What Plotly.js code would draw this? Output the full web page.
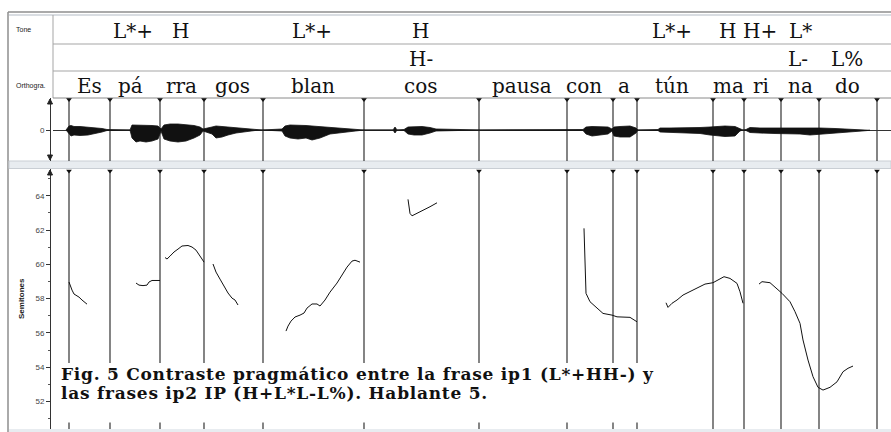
<!DOCTYPE html>
<html><head><meta charset="utf-8">
<script src="https://cdn.plot.ly/plotly-3.0.1.min.js"></script>
<style>html,body{margin:0;padding:0;background:#fff;overflow:hidden}#chart{width:891px;height:432px}
g.annotation[data-index="28"] text, g.annotation[data-index="29"] text{letter-spacing:0.75px}</style>
</head><body><div id="chart"></div>
<script>
// ---- data (time in frame units, pitch in semitones) ----
const boundaries = [69,110,160,204,263,364,479,567,613,637,713,744,781,819,877];
const orthoLabels = ['Es','pá','rra','gos','blan','cos','pausa','con','a','tún','ma','ri','na','do'];
const orthoPos    = [89,130,181,232,313,421,522,584,624,672,728,761,800,847];
const toneLabels  = ['L*+','H','L*+','H','L*+','H','H+','L*'];
const tonePos     = [133,180,312,420,672,727,760,800];
const phraseLabels = ['H-','L-','L%'];
const phrasePos    = [421,798,847];
const stTicks = [52,54,56,58,60,62,64];

const pitchTime = [69,70,72,74,76,79,82,85,87,null,
  136,139,143,147,149,152,156,160,null,
  165,167,170,174,178,182,188,192,196,199,202,204,null,
  213,216,220,224,228,232,235,238,null,
  286,288,291,295,300,304,307,312,317,320,325,330,337,342,347,352,355,360,null,
  408,410,412,417,423,430,437,null,
  584,585,586,590,597,603,612,617,630,637,null,
  666,668,672,677,683,690,697,705,713,720,724,730,737,740,743,null,
  759,762,770,777,782,790,795,800,803,808,813,818,823,830,837,843,848,853];
const pitchSt = [58.97,58.79,58.50,58.27,58.21,58.09,57.92,57.80,57.68,null,
  58.91,58.79,58.76,58.79,58.97,59.06,59.06,59.06,null,
  60.40,60.31,60.48,60.72,60.89,61.07,61.10,61.01,60.83,60.60,60.31,60.13,null,
  60.02,59.55,59.14,58.73,58.33,58.03,57.92,57.63,null,
  56.11,56.40,56.69,56.93,57.04,57.16,57.45,57.69,57.69,57.57,57.92,58.38,58.91,59.37,59.84,60.19,60.24,60.13,null,
  63.79,62.97,62.83,62.97,63.17,63.36,63.59,null,
  62.10,59.86,58.31,57.82,57.43,57.14,57.04,56.94,56.91,56.65,null,
  57.76,57.49,57.73,57.92,58.21,58.40,58.60,58.85,58.93,59.18,59.28,59.18,58.89,58.40,57.73,null,
  58.85,58.99,58.93,58.60,58.31,57.82,57.24,56.56,55.59,54.42,53.45,52.83,52.67,52.83,53.15,53.74,53.94,54.07];

// waveform envelope (upper / lower amplitude)
const waveTime = [66,69,71,74,80,88,95,102,107,
  130,132,136,140,146,152,158,161,
  164,170,178,186,194,200,203,
  212,216,222,228,236,245,255,262,
  282,285,290,298,306,312,320,330,345,360,364,
  393,395,397,404,408,414,422,430,436,460,480,
  583,586,592,600,608,612,614,620,630,636,638,
  658,660,670,685,700,710,718,725,735,740,743,
  746,750,760,775,790,800,810,820,835,850,862,870];
const waveUp = [0,4,4.5,3.5,3.5,3,2.5,1.5,0.5,
  0,5,5,5,5,4.5,4,1,
  5,6,6,5.5,4.5,3,1,
  3,4,3.5,3,2,1,0.5,0,
  1,4,5,5,4.5,4,3.5,2.5,1.5,0.5,0,
  0,3,0,0.5,3,3.5,3.5,2.5,1,0.5,0,
  0.5,3,3.5,3,3,1,3,3.5,4,2,0,
  0.5,2,2,2,2.5,3,3.5,4,3.5,1,0,
  0.5,2.5,2,2,2,2,2.5,2,1.5,1,0.5,0.3];
const waveDown = [0,-4,-6,-5,-5.5,-5,-3.5,-2,-0.5,
  0,-8,-12,-11,-12,-11,-9,-1,
  -9,-11,-12,-11,-8,-5,-1,
  -4,-8,-7,-5,-3,-1.5,-0.5,0,
  -1,-6,-8,-9,-8,-10,-8,-4,-2,-0.5,0,
  0,-3,0,-0.5,-4,-5,-5,-3,-1,-0.5,0,
  -0.5,-4,-6,-5,-4,-1,-6,-7,-7,-3,0,
  -0.5,-2,-3,-3,-3.5,-5,-6,-6.5,-6,-1,0,
  -0.5,-2.5,-3,-3.5,-3.5,-4,-5,-4.5,-3.5,-2,-1,-0.3];

// ---- helpers for pixel-placed decoration ----
const W = 891, H = 432;
const px = x => x / W, py = y => 1 - y / H;

const waveX = waveTime.concat(waveTime.slice().reverse());
const waveY = waveUp.concat(waveDown.slice().reverse());

const traces = [
  {x: waveX, y: waveY, xaxis:'x', yaxis:'y2', mode:'lines', fill:'toself',
   fillcolor:'#111', line:{color:'#111', width:0.8}, hoverinfo:'skip'},
  {x: pitchTime, y: pitchSt, xaxis:'x', yaxis:'y', mode:'lines',
   line:{color:'#111', width:1}, connectgaps:false, hoverinfo:'skip'},
  {x: boundaries, y: boundaries.map(() => 30.5), xaxis:'x', yaxis:'y2', mode:'markers',
   marker:{symbol:'triangle-down', size:5, color:'#111'}, cliponaxis:false, hoverinfo:'skip'},
  {x: boundaries, y: boundaries.map(() => 65.45), xaxis:'x', yaxis:'y', mode:'markers',
   marker:{symbol:'triangle-down', size:5, color:'#111'}, cliponaxis:false, hoverinfo:'skip'}
];

const shapes = [];
function pline(x0,y0,x1,y1,color,width){shapes.push({type:'line',xref:'paper',yref:'paper',x0:px(x0),y0:py(y0),x1:px(x1),y1:py(y1),line:{color:color,width:width},layer:'below'});}
function prect(x0,y0,x1,y1,fill,lc,layer){shapes.push({type:'rect',xref:'paper',yref:'paper',x0:px(x0),y0:py(y0),x1:px(x1),y1:py(y1),fillcolor:fill,line:{color:lc||fill,width:lc?1:0},layer:layer||'below'});}
function arrow(x,y,dir){const s=dir*5;shapes.push({type:'path',xref:'paper',yref:'paper',
  path:`M ${px(x-2.5)},${py(y+s)} L ${px(x)},${py(y)} L ${px(x+2.5)},${py(y+s)} Z`,fillcolor:'#222',line:{color:'#222',width:1},layer:'above'});}

// frame
pline(8,12,891,12,'#8e8e8e',1.5);
pline(8,12,8,432,'#8e8e8e',1.5);
pline(9,15,891,15,'#d9dde2',2);
pline(53,15,53,98,'#a5a5a5',1);
pline(53,44,891,44,'#a5a5a5',1);
pline(53,71,891,71,'#a5a5a5',1);
pline(53,98,891,98,'#8a8a8a',1);
prect(9,161,891,168.5,'#e8ecf0','#c9ced4');
prect(9,429,891,432,'#e8ecf0');
// boundary lines
boundaries.forEach(b=>{
  shapes.push({type:'line',xref:'x',yref:'y2',x0:b,x1:b,y0:-31,y1:31,line:{color:'#333',width:1.2},layer:'below'});
  shapes.push({type:'line',xref:'x',yref:'y',x0:b,x1:b,y0:50.4,y1:65.5,line:{color:'#333',width:1.2},layer:'below'});
});
// caption box (covers the boundary lines behind the caption)
prect(54,363,682,422.5,'#ffffff',null,'above');
// axis arrows
arrow(50,99,1); arrow(50,160,-1); arrow(50,170,1);

const annotations = [];
const serif = 'DejaVu Serif, Liberation Serif, serif';
function ann(text,x,y,size,opts){annotations.push(Object.assign({text:text,x:x,y:py(y),xref:'x',yref:'paper',showarrow:false,
  xanchor:'center',yanchor:'middle',font:{family:serif,size:size,color:'#111'}},opts||{}));}
toneLabels.forEach((t,i)=>ann(t,tonePos[i],31,20));
phraseLabels.forEach((t,i)=>ann(t,phrasePos[i],59,20));
orthoLabels.forEach((t,i)=>ann(t,orthoPos[i],86,20));
annotations.push({text:'Tone',x:px(14),y:py(30),xref:'paper',yref:'paper',showarrow:false,xanchor:'left',yanchor:'middle',font:{family:'Liberation Sans, Arial',size:7,color:'#222'}});
annotations.push({text:'Orthogra.',x:px(14),y:py(86),xref:'paper',yref:'paper',showarrow:false,xanchor:'left',yanchor:'middle',font:{family:'Liberation Sans, Arial',size:7,color:'#222'}});
annotations.push({text:'Semitones',x:px(21),y:py(299),xref:'paper',yref:'paper',showarrow:false,textangle:-90,xanchor:'center',yanchor:'middle',font:{family:'Liberation Sans, Arial',size:8,color:'#222',weight:'bold'}});
annotations.push({text:'Fig. 5 Contraste pragmático entre la frase ip1 (L*+HH-) y',x:px(59),y:py(374),xref:'paper',yref:'paper',showarrow:false,xanchor:'left',align:'left',yanchor:'middle',font:{family:serif,size:17,color:'#111',weight:'bold'}});
annotations.push({text:'las frases ip2 IP (H+L*L-L%). Hablante 5.',x:px(59),y:py(393),xref:'paper',yref:'paper',showarrow:false,xanchor:'left',align:'left',yanchor:'middle',font:{family:serif,size:17,color:'#111',weight:'bold'}});

const layout = {
  width: W, height: H, margin:{l:0,r:0,t:0,b:0,pad:0},
  paper_bgcolor:'#ffffff', plot_bgcolor:'rgba(0,0,0,0)', showlegend:false,
  xaxis:{domain:[53/W,1], range:[53,891], visible:false, fixedrange:true},
  yaxis:{domain:[1-429/H, 1-169/H], range:[50.40,65.56], anchor:'free', position:50/W,
    showline:true, linecolor:'#333', linewidth:1, ticks:'outside', ticklen:4, tickcolor:'#333',
    tickvals:stTicks, ticktext:stTicks.map(String), tickfont:{family:'Liberation Sans, Arial',size:8,color:'#444'},
    minor:{dtick:1, tick0:0, ticks:'outside', ticklen:2, tickcolor:'#555'},
    showgrid:false, zeroline:false, fixedrange:true},
  yaxis2:{domain:[1-161/H, 1-98/H], range:[-31,32], anchor:'free', position:50/W,
    showline:true, linecolor:'#333', linewidth:1, ticks:'outside', ticklen:4, tickcolor:'#333',
    tickvals:[0], ticktext:['0'], tickfont:{family:'Liberation Sans, Arial',size:8,color:'#444'},
    showgrid:false, zeroline:true, zerolinecolor:'#333', zerolinewidth:1, fixedrange:true},
  shapes: shapes, annotations: annotations
};
Plotly.newPlot('chart', traces, layout, {staticPlot:true, displayModeBar:false});
</script></body></html>
